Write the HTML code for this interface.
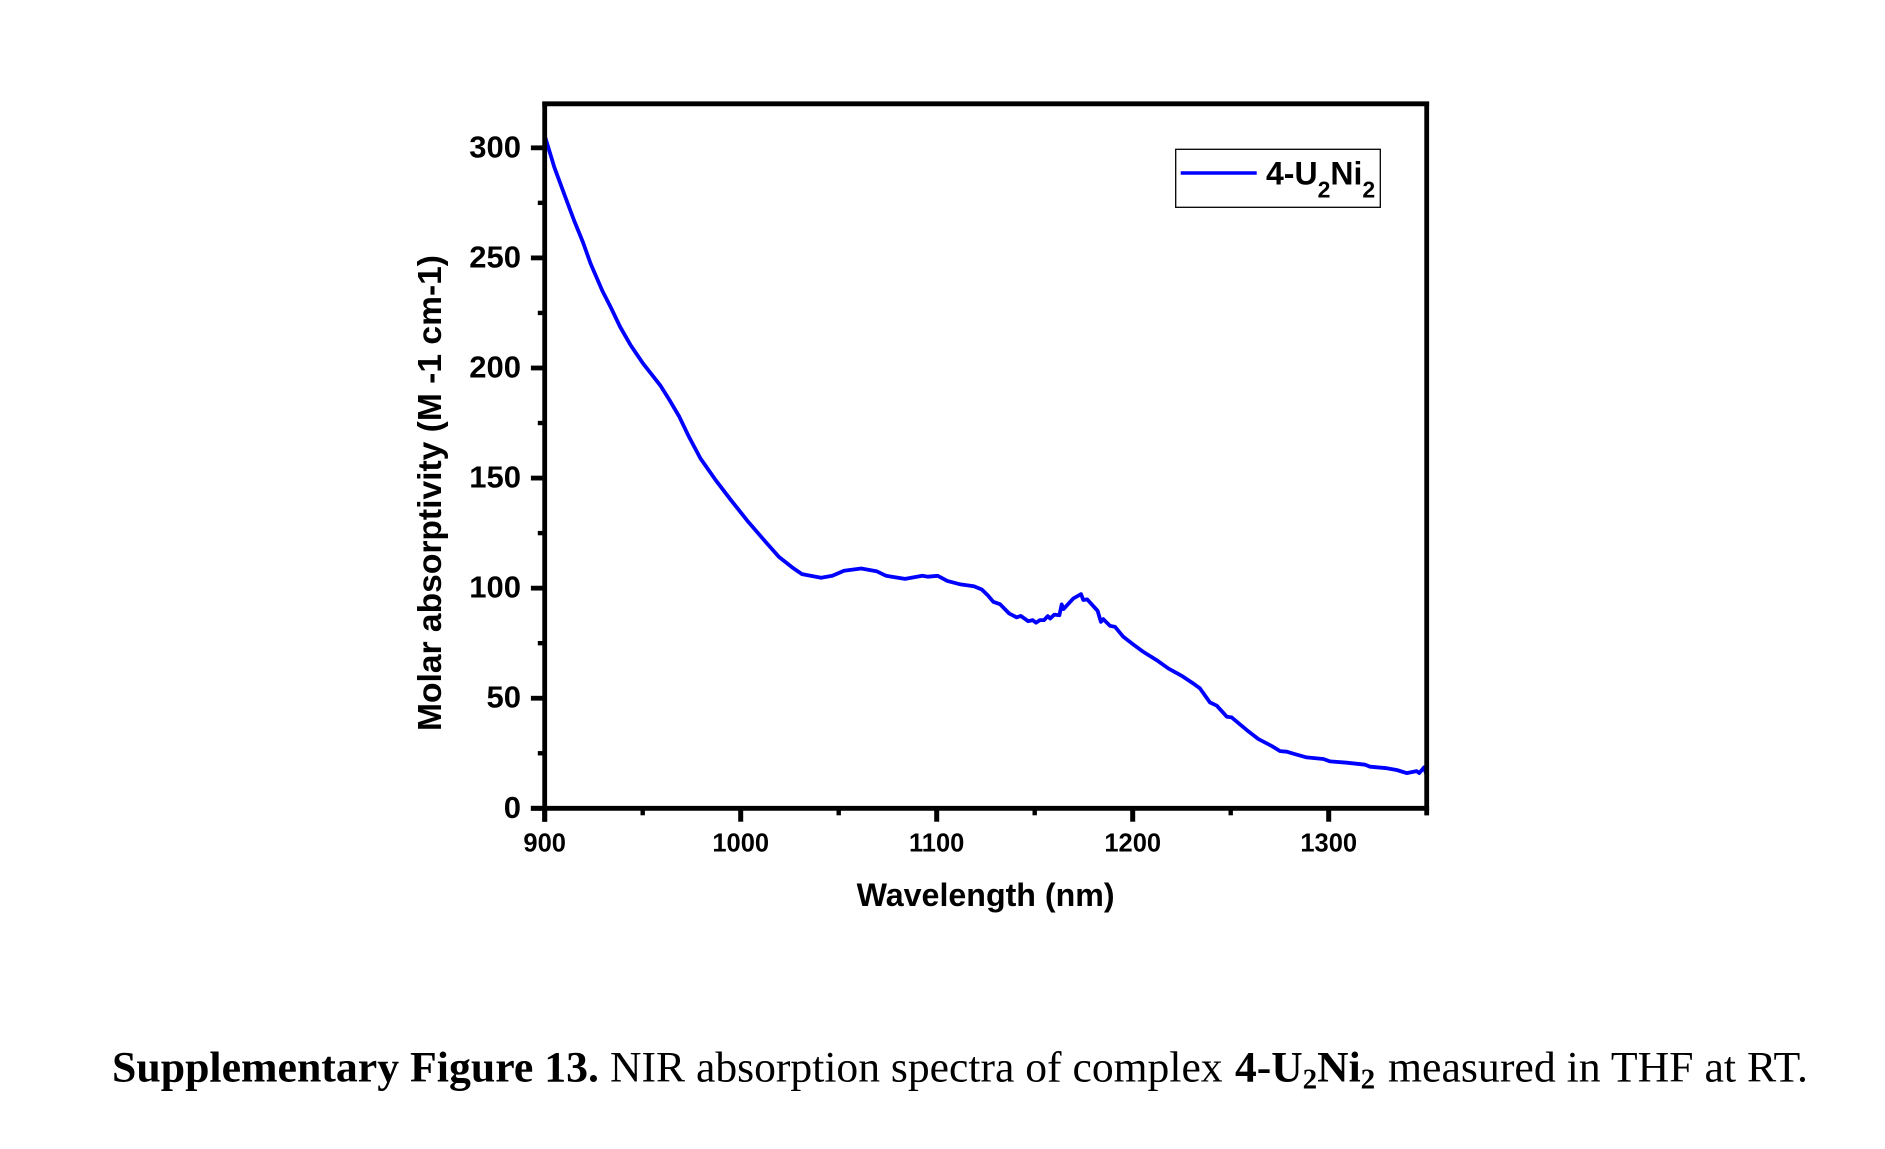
<!DOCTYPE html>
<html lang="en">
<head>
<meta charset="utf-8">
<title>NIR absorption spectra of complex 4-U2Ni2</title>
<style>
  html, body { margin: 0; padding: 0; background: #ffffff; }
  svg { display: block; }
  .sans { font-family: "Liberation Sans", Arial, sans-serif; font-weight: 700; fill: #000; }
  .serif { font-family: "Liberation Serif", "Times New Roman", serif; font-size: 43.5px; fill: #000; }
  .b { font-weight: 700; }
</style>
</head>
<body>
<svg id="figure" xmlns="http://www.w3.org/2000/svg" width="1885" height="1149" viewBox="0 0 1885 1149">
  <rect x="0" y="0" width="1885" height="1149" fill="#ffffff"/>
  <g id="plot"></g>

  <text class="sans" font-size="33" text-anchor="middle" textLength="476" lengthAdjust="spacingAndGlyphs" transform="translate(441 493) rotate(-90)">Molar absorptivity (M -1 cm-1)</text>
  <text class="sans" font-size="32" text-anchor="middle" textLength="258" lengthAdjust="spacingAndGlyphs" x="985.6" y="906">Wavelength (nm)</text>

  <g>
    <rect x="1175.7" y="149.3" width="204.6" height="58" fill="#ffffff" stroke="#000000" stroke-width="1.3"/>
    <line x1="1180.7" y1="173" x2="1256.7" y2="173" stroke="#0000ff" stroke-width="3.6"/>
    <text class="sans" font-size="32" x="1266" y="184.3">4-U<tspan font-size="23" dy="13">2</tspan><tspan dy="-13">Ni</tspan><tspan font-size="23" dy="13">2</tspan></text>
  </g>

  <g>
    <text class="serif b" x="112" y="1081.7" textLength="487" lengthAdjust="spacingAndGlyphs">Supplementary Figure 13.</text>
    <text class="serif" x="610" y="1081.7" textLength="612.6" lengthAdjust="spacingAndGlyphs">NIR absorption spectra of complex</text>
    <text class="serif b" x="1235" y="1081.7">4-U<tspan font-size="29" dy="7">2</tspan><tspan dy="-7">Ni</tspan><tspan font-size="29" dy="7">2</tspan></text>
    <text class="serif" x="1388" y="1081.7" textLength="420" lengthAdjust="spacingAndGlyphs">measured in THF at RT.</text>
  </g>
</svg>

<script>
// Chart data
const wavelengths = [900,904.9,910.2,915,919.5,923.4,929.3,933.6,938.5,943.9,950.2,959,963.8,968.7,973.6,979.5,987.3,995.1,1003.9,1012.7,1019.5,1026.3,1031.2,1041,1046.8,1052.7,1061.5,1069.3,1074.2,1083.9,1092.7,1095.5,1100.5,1105.4,1112.2,1119,1123,1126,1128.9,1132.3,1137,1140.8,1142.9,1146.7,1149,1150.7,1152.7,1154.8,1156.7,1157.9,1160,1162.6,1163.8,1164.7,1169.7,1173.6,1174.8,1176.8,1182.1,1183.8,1185,1188.4,1191,1195.2,1200.3,1205.4,1212.2,1218.2,1225,1230.9,1234.3,1239.4,1242.9,1248,1250.5,1258.2,1264.1,1270.9,1275.2,1278.6,1282,1288.8,1297.3,1300.7,1309.2,1318.6,1321.1,1329.6,1334.7,1339.8,1344.9,1346.2,1348.6,1350];
const absorptivity = [305.6,291.2,278.4,267,257.2,247.4,235.3,227.7,218.6,210.3,202,192.1,185.3,177.8,168.7,158.9,149,139.9,130.1,121,114.2,109.4,106.4,104.7,105.6,107.9,108.9,107.7,105.6,104.2,105.6,105.2,105.6,103.3,101.7,100.9,99.4,96.8,93.8,92.7,88.5,86.7,87.4,85,85.5,84.3,85.5,85.5,87.3,86.2,88,87.7,92.6,90.5,95.3,97.3,94.6,94.9,89.7,84.7,85.9,82.9,82.4,77.9,74.4,71.1,67.3,63.5,60.2,56.7,54.5,48.1,46.6,41.6,41.3,35.5,31.5,28.3,26,25.7,24.8,23.1,22.4,21.3,20.7,19.8,18.9,18.2,17.4,16,16.9,16,18.6,15.1];
const xMajorTicks = [900,1000,1100,1200,1300];
const xMinorTicks = [950,1050,1150,1250,1350];
const yMajorTicks = [0,50,100,150,200,250,300];
const yMinorTicks = [25,75,125,175,225,275];
const xDomain = [900,1350];
const yDomain = [0,320];

const NS = 'http://www.w3.org/2000/svg';
const plot = document.getElementById('plot');
const left = 544.7, right = 1426.7, bottom = 808.3, top_ = 103.8;
function xScale(w) { return left + (w - xDomain[0]) * (right - left) / (xDomain[1] - xDomain[0]); }
function yScale(v) { return bottom - (v - yDomain[0]) * (bottom - top_) / (yDomain[1] - yDomain[0]); }

function drawLine(name, x1, y1, x2, y2, width) {
  const el = document.createElementNS(NS, 'line');
  
  
  el.setAttribute('x1', x1);
  el.setAttribute('y1', y1);
  el.setAttribute('x2', x2);
  el.setAttribute('y2', y2);
  el.setAttribute('stroke', '#000000');
  el.setAttribute('stroke-width', width);
  plot.appendChild(el);
}
function drawLabel(name, text, x, y, size, anchor) {
  const el = document.createElementNS(NS, 'text');
  
  
  el.setAttribute('class', 'sans');
  el.setAttribute('x', x);
  el.setAttribute('y', y);
  el.setAttribute('font-size', size);
  el.setAttribute('text-anchor', anchor);
  el.textContent = text;
  plot.appendChild(el);
}

xMajorTicks.forEach(function (t) {
  drawLine('x-major-tick', xScale(t), bottom, xScale(t), 821.7, 5);
  drawLabel('x-tick-label', String(t), xScale(t), 851.7, 25.5, 'middle');
});
xMinorTicks.forEach(function (t) {
  drawLine('x-minor-tick', xScale(t), bottom, xScale(t), 815.3, 4.4);
});
yMajorTicks.forEach(function (t) {
  drawLine('y-major-tick', 530.9, yScale(t), left, yScale(t), 4.8);
  drawLabel('y-tick-label', String(t), 521, yScale(t) + 9.5, 31, 'end');
});
yMinorTicks.forEach(function (t) {
  drawLine('y-minor-tick', 537.8, yScale(t), left, yScale(t), 4.4);
});

const curve = document.createElementNS(NS, 'polyline');


curve.setAttribute('fill', 'none');
curve.setAttribute('stroke', '#0000ff');
curve.setAttribute('stroke-width', '3.8');
curve.setAttribute('stroke-linejoin', 'round');
curve.setAttribute('points', wavelengths.map(function (w, i) {
  return xScale(w).toFixed(1) + ',' + yScale(absorptivity[i]).toFixed(1);
}).join(' '));
plot.appendChild(curve);

drawLine('axis-left', left, top_ - 2.3, left, 821.7, 4.8);
drawLine('axis-right', right, top_ - 2.3, right, 815.3, 4.8);
drawLine('axis-top', left - 2.4, top_, right + 2.4, top_, 4.8);
drawLine('axis-bottom', 530.9, bottom, right + 2.4, bottom, 4.8);
</script>
</body>
</html>
